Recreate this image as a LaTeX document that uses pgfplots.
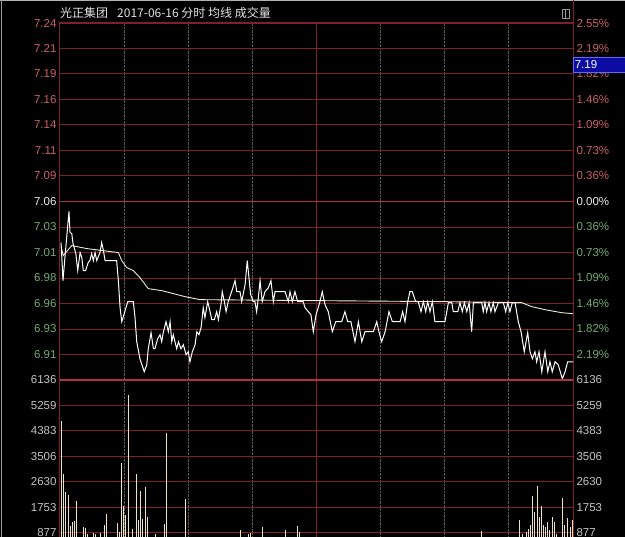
\documentclass[border=0pt]{standalone}
\usepackage{pgfplots}
\pgfplotsset{compat=1.18}
\usepackage{fontspec}
\setmainfont{Liberation Sans}
\newfontfamily\cjk{Noto Sans CJK SC}
\definecolor{gridred}{RGB}{125,32,42}
\definecolor{zerored}{RGB}{175,50,62}
\definecolor{dotgray}{RGB}{100,88,88}
\definecolor{lblred}{RGB}{205,95,105}
\definecolor{lblgreen}{RGB}{115,170,115}
\definecolor{lblwhite}{RGB}{235,235,235}
\definecolor{lblgray}{RGB}{195,195,195}
\definecolor{avgcol}{RGB}{235,235,210}
\definecolor{volcol}{RGB}{235,228,190}
\definecolor{boxblue}{RGB}{12,12,165}
\pgfplotsset{
  panel/.style={scale only axis, width=513pt, xmin=0, xmax=240,
    axis line style={gridred, line width=1pt},
    major tick length=0pt, minor tick length=0pt,
    xtick={30,60,90,150,180,210}, xticklabels={},
    xmajorgrids, ymajorgrids,
    major x grid style={dotgray, densely dotted, line width=0.8pt},
    major y grid style={gridred, line width=1pt},
    ticklabel style={font=\fontsize{11.5}{12}\selectfont},
    /pgf/number format/assume math mode=true},
  overlay/.style={scale only axis, width=513pt, xmin=0, xmax=240,
    axis x line=none, axis y line*=right,
    axis line style={gridred, line width=1pt},
    major tick length=0pt, minor tick length=0pt,
    ticklabel style={font=\fontsize{11.5}{12}\selectfont},
    /pgf/number format/assume math mode=true},
}
\pgfplotstableread{
t p
0.5 7.019
1.4 6.981
2.3 7.004
4.2 7.050
4.7 7.029
5.5 7.028
6.1 7.018
7.4 7.008
8.3 6.991
9.4 7.009
10.2 7.004
10.9 6.991
12.0 6.991
13.2 6.999
14.0 7.001
14.8 7.008
15.6 7.001
16.4 7.009
17.2 7.001
18.7 7.009
19.5 7.019
20.3 7.011
21.1 7.001
26.5 7.001
27.3 6.981
28.1 6.954
28.9 6.940
29.9 6.947
31.7 6.960
34.3 6.960
35.1 6.944
35.9 6.920
37.4 6.903
39.4 6.890
40.6 6.897
41.3 6.913
42.6 6.929
43.7 6.913
44.4 6.913
45.7 6.923
46.8 6.927
47.6 6.920
48.3 6.929
49.6 6.940
50.7 6.930
51.5 6.940
52.3 6.920
53.0 6.927
54.6 6.913
55.4 6.920
56.6 6.913
57.7 6.917
59.0 6.907
60.0 6.910
60.8 6.900
61.9 6.910
63.2 6.917
64.0 6.930
65.0 6.927
66.0 6.934
67.0 6.954
67.8 6.944
69.1 6.960
70.2 6.950
71.0 6.942
72.2 6.942
73.3 6.950
74.1 6.942
75.3 6.957
75.9 6.970
76.9 6.960
77.7 6.950
78.7 6.960
80.3 6.970
81.9 6.981
82.7 6.970
84.2 6.970
85.0 6.960
86.6 6.977
87.6 7.001
88.4 6.984
89.2 6.967
90.4 6.960
91.2 6.960
92.0 6.950
92.8 6.964
93.6 6.981
94.6 6.960
95.9 6.970
97.5 6.974
98.7 6.981
99.8 6.960
100.6 6.970
105.3 6.970
106.8 6.960
107.6 6.970
108.7 6.960
109.9 6.970
111.2 6.960
113.8 6.960
114.6 6.954
116.2 6.950
117.4 6.947
118.5 6.930
119.8 6.947
120.8 6.954
121.6 6.960
122.7 6.970
124.0 6.957
125.5 6.950
127.4 6.930
129.0 6.940
131.8 6.940
133.3 6.950
134.6 6.940
136.1 6.940
138.0 6.920
139.6 6.940
141.2 6.920
142.7 6.930
146.6 6.930
148.2 6.940
149.2 6.930
150.5 6.920
152.1 6.930
153.9 6.950
155.5 6.940
159.1 6.940
160.3 6.950
161.4 6.940
162.7 6.960
163.7 6.970
164.8 6.970
166.4 6.960
167.6 6.960
168.9 6.950
170.0 6.960
171.1 6.950
172.0 6.960
173.1 6.950
174.2 6.960
175.4 6.940
180.1 6.940
181.7 6.959
183.3 6.959
184.0 6.950
186.1 6.950
187.1 6.959
188.2 6.950
189.2 6.959
190.3 6.950
191.4 6.959
192.6 6.930
193.4 6.959
197.3 6.959
198.0 6.950
198.8 6.959
199.6 6.950
200.7 6.959
201.6 6.950
202.7 6.959
203.5 6.950
205.1 6.959
207.4 6.959
208.5 6.950
209.5 6.959
210.5 6.950
211.6 6.959
212.9 6.959
214.4 6.940
215.7 6.930
217.2 6.910
218.8 6.929
219.9 6.910
221.0 6.903
222.2 6.910
223.0 6.900
224.1 6.910
225.4 6.890
226.9 6.910
228.2 6.890
229.2 6.900
230.3 6.890
231.6 6.900
233.1 6.897
235.0 6.883
236.3 6.890
237.5 6.900
239.9 6.900
}\pricetab
\pgfplotstableread{
t p
0.5 7.015
1.5 7.006
5.5 7.016
12.5 7.013
27.3 7.009
28.9 7.001
31.2 6.994
34.3 6.991
37.4 6.984
41.3 6.973
47.6 6.971
58.5 6.965
65.5 6.962
121.6 6.961
180.1 6.960
216.0 6.959
220.7 6.955
226.9 6.952
234.7 6.949
239.9 6.948
}\avgtab
\pgfplotstableread{
t v
0.8 4735
1.5 2921
2.5 2287
3.9 2173
4.8 1104
5.8 1252
6.7 1276
7.6 1976
11.1 1080
12.0 1059
12.9 852
15.6 873
16.7 828
18.9 873
20.7 1138
21.8 1542
26.8 1218
27.7 907
28.9 3287
29.6 1794
30.5 1483
31.9 5622
33.8 1024
35.6 2921
36.6 1311
37.5 2321
38.6 1369
39.8 2459
40.7 1424
44.5 852
48.8 1173
49.7 4301
58.5 2059
84.2 990
88.1 850
89.2 873
94.8 1080
105.3 966
111.2 1128
112.0 900
197.1 930
214.9 1311
216.5 852
218.1 900
219.3 1024
220.2 1138
221.2 2138
222.1 1597
223.5 2483
224.4 1424
225.3 1794
226.1 1138
227.0 1080
227.9 1252
228.9 966
230.3 1424
231.2 1252
232.4 850
235.0 2094
236.1 1138
237.3 1390
238.8 1080
239.9 1311
}\voltab
\begin{document}
\begin{tikzpicture}
\fill[black] (0pt,0pt) rectangle (625pt,537pt);
\useasboundingbox (0pt,0pt) rectangle (625pt,537pt);
\clip (0pt,0pt) rectangle (625pt,537pt);
\draw[gray!60, line width=1pt] (0pt,536pt) -- (625pt,536pt);
\draw[gray!80, line width=1pt] (1.5pt,0pt) -- (1.5pt,537pt);
\draw[gridred, line width=1pt] (573pt,514pt) -- (573pt,537pt);
% price panel
\begin{axis}[panel, at={(60pt,157pt)}, anchor=south west, height=357pt,
  ymin=6.8818, ymax=7.2382,
  ytick={6.9073,6.9327,6.9582,6.9836,7.0091,7.0345,7.06,7.0855,7.1109,7.1364,7.1618,7.1873,7.2127,7.2381},
  yticklabels={{\color{lblgreen}6.91},{\color{lblgreen}6.93},{\color{lblgreen}6.96},{\color{lblgreen}6.98},{\color{lblgreen}7.01},{\color{lblgreen}7.03},{\color{lblwhite}7.06},{\color{lblred}7.09},{\color{lblred}7.11},{\color{lblred}7.14},{\color{lblred}7.16},{\color{lblred}7.19},{\color{lblred}7.21},{\color{lblred}7.24}}]
\draw[gridred, line width=1pt] (rel axis cs:0.5,0) -- (rel axis cs:0.5,1);
\draw[zerored, line width=1.6pt] (axis cs:0,7.06) -- (axis cs:240,7.06);
\addplot[avgcol, line width=0.9pt] table[x=t,y=p] {\avgtab};
\addplot[white, line width=1pt] table[x=t,y=p] {\pricetab};
\end{axis}
\begin{axis}[overlay, at={(60pt,157pt)}, anchor=south west, height=357pt,
  ymin=6.8818, ymax=7.2382,
  ytick={6.9073,6.9327,6.9582,6.9836,7.0091,7.0345,7.06,7.0855,7.1109,7.1364,7.1618,7.1873,7.2127,7.2381},
  yticklabels={{\color{lblgreen}2.19\%},{\color{lblgreen}1.82\%},{\color{lblgreen}1.46\%},{\color{lblgreen}1.09\%},{\color{lblgreen}0.73\%},{\color{lblgreen}0.36\%},{\color{lblwhite}0.00\%},{\color{lblred}0.36\%},{\color{lblred}0.73\%},{\color{lblred}1.09\%},{\color{lblred}1.46\%},{\color{lblred}1.82\%},{\color{lblred}2.19\%},{\color{lblred}2.55\%}}]
\end{axis}
% volume panel
\begin{axis}[panel, at={(60pt,-21.5pt)}, anchor=south west, height=178.5pt,
  ymin=0, ymax=6136,
  ytick={876.6,1753.1,2629.7,3506.3,4382.9,5259.4},
  yticklabels={877,1753,2630,3506,4383,5259},
  extra y ticks={6136}, extra y tick labels={6136},
  extra y tick style={major y grid style={zerored, line width=1.4pt}},
  yticklabel style={text=lblgray}]
\draw[gridred, line width=1pt] (rel axis cs:0.5,0) -- (rel axis cs:0.5,1);
\addplot[ycomb, volcol, line width=0.9pt] table[x=t,y=v] {\voltab};
\end{axis}
\begin{axis}[overlay, at={(60pt,-21.5pt)}, anchor=south west, height=178.5pt,
  ymin=0, ymax=6136,
  ytick={876.6,1753.1,2629.7,3506.3,4382.9,5259.4,6136},
  yticklabels={877,1753,2630,3506,4383,5259,6136},
  yticklabel style={text=lblgray}]
\end{axis}
\draw[zerored, line width=1.4pt] (60pt,157pt) -- (573pt,157pt);
% header
\node[anchor=west, inner sep=0pt, text=lblwhite!92!gray, font=\cjk\fontsize{12}{14}\selectfont] at (60pt,524.5pt) {光正集团\hspace{9pt}2017-06-16 分时 均线 成交量};
\draw[gray!80, line width=0.8pt] (562pt,519pt) rectangle (569pt,528pt);
\draw[gray!80, line width=0.8pt] (565.5pt,519pt) -- (565.5pt,528pt);
% price marker box
\node[anchor=west, fill=boxblue, draw=blue!60!white, line width=0.6pt, minimum width=53pt, minimum height=15pt, inner sep=1pt, text width=50pt, align=left, text=white, font=\fontsize{11.5}{12}\selectfont] at (573pt,472.5pt) {7.19};
\end{tikzpicture}
\end{document}
